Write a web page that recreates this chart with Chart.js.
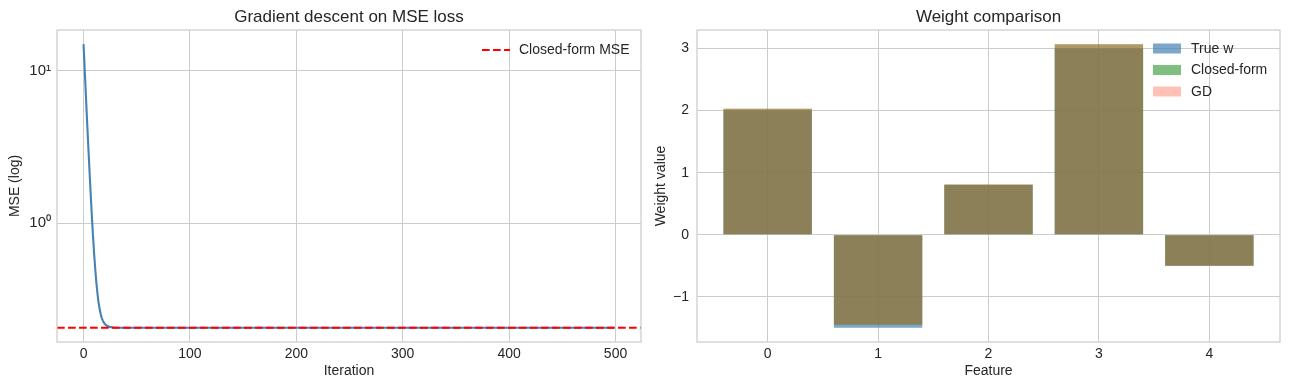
<!DOCTYPE html>
<html><head><meta charset="utf-8">
<script src="https://cdn.jsdelivr.net/npm/chart.js@4.4.1/dist/chart.umd.min.js"></script>
<style>
html,body{margin:0;padding:0;background:#fff;width:1290px;height:390px;overflow:hidden;}
canvas{position:absolute;top:0;}
#c1{left:0;} #c2{left:645px;}
</style></head><body>
<canvas id="c1" width="645" height="390" style="width:645px;height:390px"></canvas>
<canvas id="c2" width="645" height="390" style="width:645px;height:390px"></canvas>
<script>
// ---- data ----
const iterations = [0,1,2,3,4,5,6,7,8,9,10,11,12,13,14,15,16,17,18,19,20,22,24,27,30,499];
const gdMSE = [14.9,10.5,7.4,5.2,3.7,2.68,1.93,1.42,1.05,0.80,0.62,0.50,0.41,0.35,0.305,0.276,0.255,0.240,0.230,0.223,0.218,0.212,0.209,0.207,0.206,0.206];
const closedFormMSE = 0.206;
const iterTicks = [0,100,200,300,400,500];
const mseTicks = [1,10];
const mseTickLabels = ['10\u2070','10\u00B9'];

const features = [0,1,2,3,4];
const trueW = [2.0,-1.5,0.8,3.0,-0.5];
const closedFormW = [2.03,-1.45,0.81,3.07,-0.5];
const gdW = [2.03,-1.45,0.81,3.07,-0.5];
const weightTicks = [-1,0,1,2,3];

// ---- styling ----
const FONT = "'Liberation Sans', Arial, sans-serif";
const TXT = '#262626';
const GRID = '#cccccc';
Chart.defaults.font.family = FONT;
Chart.defaults.color = TXT;
Chart.defaults.animation = false;

const frame = {
  id: 'frame',
  afterDatasetsDraw(chart) {
    const a = chart.chartArea, ctx = chart.ctx;
    ctx.save();
    ctx.strokeStyle = GRID; ctx.lineWidth = 1.25;
    ctx.strokeRect(a.left, a.top, a.right - a.left, a.bottom - a.top);
    ctx.restore();
  }
};

const insideLegend = {
  id: 'insideLegend',
  afterDraw(chart, args, o) {
    const ctx = chart.ctx;
    ctx.save();
    ctx.font = o.fontSize + 'px ' + FONT;
    ctx.textBaseline = 'middle';
    let row = 0;
    chart.data.datasets.forEach(ds => {
      if (!ds.label) return;
      const y = o.y + row * o.rowGap;
      if (o.kind === 'line') {
        ctx.strokeStyle = ds.borderColor; ctx.lineWidth = ds.borderWidth;
        ctx.setLineDash(ds.borderDash || []);
        ctx.beginPath(); ctx.moveTo(o.x, y); ctx.lineTo(o.x + o.w, y); ctx.stroke();
        ctx.setLineDash([]);
      } else {
        ctx.fillStyle = ds.backgroundColor;
        ctx.fillRect(o.x, y - o.h / 2, o.w, o.h);
      }
      ctx.fillStyle = TXT;
      ctx.fillText(ds.label, o.x + o.w + o.gap, y + 0.5);
      row++;
    });
    ctx.restore();
  }
};

const tickFont = {size: 14};
const labelFont = {size: 14};
const titleFont = {size: 17, weight: 'normal'};

// ---- left chart: GD loss ----
new Chart(document.getElementById('c1'), {
  type: 'line',
  data: {
    datasets: [
      {
        label: 'Closed-form MSE',
        data: [{x: -24.95, y: closedFormMSE}, {x: 523.95, y: closedFormMSE}],
        borderColor: '#ff0000', borderWidth: 2.1, borderDash: [7.7, 3.3],
        pointRadius: 0, order: 1
      },
      {
        data: iterations.map((it, i) => ({x: it, y: gdMSE[i]})),
        borderColor: '#4682b4', borderWidth: 2.1, pointRadius: 0,
        tension: 0, order: 2
      }
    ]
  },
  options: {
    responsive: false,
    layout: {padding: {left: 0, right: 4, top: 0, bottom: 0}},
    plugins: {
      legend: {display: false}, tooltip: {enabled: false},
      title: {display: true, text: 'Gradient descent on MSE loss', font: titleFont, color: TXT,
              fullSize: false, padding: {top: 7, bottom: 2.6}},
      insideLegend: {kind: 'line', x: 482, y: 50, w: 28, h: 2, gap: 9, rowGap: 21.5, fontSize: 14}
    },
    scales: {
      x: {
        type: 'linear', position: 'bottom', min: -24.95, max: 523.95,
        afterBuildTicks: s => { s.ticks = iterTicks.map(v => ({value: v})); },
        afterFit: s => { s.height = 48; },
        ticks: {font: tickFont, color: TXT, padding: 4, maxRotation: 0, callback: v => String(v)},
        grid: {color: GRID, lineWidth: 1, drawTicks: false},
        border: {display: false},
        title: {display: true, text: 'Iteration', font: labelFont, color: TXT, padding: {top: 0, bottom: 10}}
      },
      y: {
        type: 'logarithmic', position: 'left', min: 0.166, max: 18.45,
        afterBuildTicks: s => { s.ticks = mseTicks.map(v => ({value: v})); },
        afterFit: s => { s.width = 57; },
        ticks: {font: {size: 15}, color: TXT, padding: 6,
                callback: v => mseTickLabels[mseTicks.indexOf(v)] ?? ''},
        grid: {color: GRID, lineWidth: 1, drawTicks: false},
        border: {display: false},
        title: {display: true, text: 'MSE (log)', font: labelFont, color: TXT, padding: {top: 7, bottom: 0}}
      }
    }
  },
  plugins: [frame, insideLegend]
});

// ---- right chart: weights ----
new Chart(document.getElementById('c2'), {
  type: 'bar',
  data: {
    labels: features,
    datasets: [
      {label: 'True w', data: trueW, backgroundColor: 'rgba(70,130,180,0.7)', order: 3},
      {label: 'Closed-form', data: closedFormW, backgroundColor: 'rgba(0,128,0,0.5)', order: 2},
      {label: 'GD', data: gdW, backgroundColor: 'rgba(255,99,71,0.4)', order: 1}
    ]
  },
  options: {
    responsive: false,
    layout: {padding: {left: 0, right: 10, top: 0, bottom: 0}},
    datasets: {bar: {grouped: false, categoryPercentage: 1, barPercentage: 0.8, borderWidth: 0}},
    plugins: {
      legend: {display: false}, tooltip: {enabled: false},
      title: {display: true, text: 'Weight comparison', font: titleFont, color: TXT,
              fullSize: false, padding: {top: 7, bottom: 2.6}},
      insideLegend: {kind: 'box', x: 1153 - 645, y: 48.5, w: 28, h: 10, gap: 10, rowGap: 21.5, fontSize: 14}
    },
    scales: {
      x: {
        type: 'linear', position: 'bottom', min: -0.64, max: 4.64, offset: false,
        afterBuildTicks: s => { s.ticks = features.map(v => ({value: v})); },
        afterFit: s => { s.height = 48; },
        ticks: {font: tickFont, color: TXT, padding: 4, maxRotation: 0, callback: v => String(v)},
        grid: {color: GRID, lineWidth: 1, drawTicks: false, offset: false},
        border: {display: false},
        title: {display: true, text: 'Feature', font: labelFont, color: TXT, padding: {top: 0, bottom: 10}}
      },
      y: {
        type: 'linear', position: 'left', min: -1.7285, max: 3.2985,
        afterBuildTicks: s => { s.ticks = weightTicks.map(v => ({value: v})); },
        afterFit: s => { s.width = 52; },
        ticks: {font: tickFont, color: TXT, padding: 8,
                callback: v => v < 0 ? '\u2212' + Math.abs(v) : String(v)},
        grid: {color: GRID, lineWidth: 1, drawTicks: false},
        border: {display: false},
        title: {display: true, text: 'Weight value', font: labelFont, color: TXT, padding: {top: 8, bottom: 0}}
      }
    }
  },
  plugins: [frame, insideLegend]
});
</script>
</body></html>
